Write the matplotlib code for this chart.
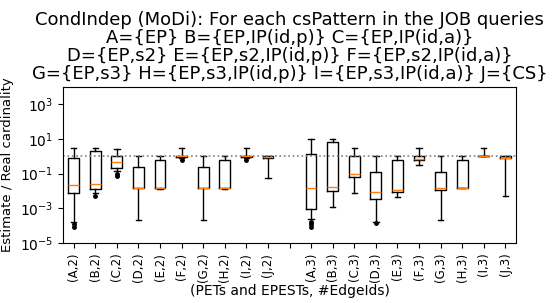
import matplotlib
matplotlib.use('Agg')
import matplotlib.pyplot as plt

# box statistics (whislo, q1, med, q3, whishi, fliers)
labels = ['(A,2)', '(B,2)', '(C,2)', '(D,2)', '(E,2)', '(F,2)', '(G,2)', '(H,2)', '(I,2)', '(J,2)', '',
          '(A,3)', '(B,3)', '(C,3)', '(D,3)', '(E,3)', '(F,3)', '(G,3)', '(H,3)', '(I,3)', '(J,3)']
whislo = [1.6e-4, 7.2e-3, 0.14, 2.1e-4, 0.013, 0.75, 2.1e-4, 0.013, 0.75, 0.054,
          2.4e-4, 1.2e-3, 7.6e-3, 1.6e-4, 4.5e-3, 0.31, 2.1e-4, 0.0145, 1.0, 5.2e-3]
q1 = [7.2e-3, 0.0126, 0.22, 0.015, 0.015, 0.95, 0.015, 0.015, 0.95, 0.82,
      9.5e-4, 9.8e-3, 0.062, 3.4e-3, 9.3e-3, 0.58, 0.0107, 0.0145, 1.0, 0.75]
med = [0.023, 0.027, 0.485, 0.015, 0.015, 1.0, 0.015, 0.015, 1.0, 0.9,
       0.014, 0.018, 0.095, 9.3e-3, 0.0107, 0.72, 0.014, 0.0145, 1.0, 0.78]
q3 = [0.79, 2.06, 0.98, 0.24, 0.6, 1.05, 0.24, 0.6, 1.05, 1.0,
      1.39, 6.7, 1.0, 0.13, 0.63, 1.0, 0.13, 0.63, 1.0, 0.98]
whishi = [3.2, 3.2, 2.8, 1.0, 1.0, 2.9, 1.0, 1.0, 2.9, 1.0,
          10.5, 10.5, 2.9, 1.0, 1.0, 2.9, 1.0, 1.0, 2.9, 1.0]
fliers = [[1.2e-4, 8e-5], [5.3e-3], [0.1, 0.075], [], [], [0.62], [], [], [0.65], [],
          [1.7e-4, 1.26e-4, 8.9e-5], [], [], [1.4e-4], [], [], [], [], [], []]

title = ('CondIndep (MoDi): For each csPattern in the JOB queries\n'
         'A={EP} B={EP,IP(id,p)} C={EP,IP(id,a)}\n'
         'D={EP,s2} E={EP,s2,IP(id,p)} F={EP,s2,IP(id,a)}\n'
         'G={EP,s3} H={EP,s3,IP(id,p)} I={EP,s3,IP(id,a)} J={CS}')

positions = [i + 1 for i, l in enumerate(labels) if l != '']
stats = []
for i in range(len(positions)):
    stats.append(dict(whislo=whislo[i], q1=q1[i], med=med[i], q3=q3[i],
                      whishi=whishi[i], fliers=fliers[i]))

fig = plt.figure(figsize=(5.52, 3.03), dpi=100)
ax = fig.add_axes([0.114, 0.198, 0.821, 0.515])

ax.bxp(stats, positions=positions, widths=0.5,
       flierprops=dict(marker='o', markersize=2.5, markerfacecolor='black', markeredgecolor='black'))
ax.axhline(1, color='grey', linestyle=':', linewidth=1.2)

ax.set_yscale('log')
ax.set_ylim(1e-5, 1e4)
ax.set_yticks([1e-5, 1e-3, 1e-1, 1e1, 1e3])
ax.minorticks_off()
ax.set_xlim(0.5, len(labels) + 0.5)
ax.set_xticks(range(1, len(labels) + 1))
ax.set_xticklabels(labels, rotation=90, fontsize=8.5)

ax.set_title(title, fontsize=13, linespacing=1.0)
ax.set_xlabel('(PETs and EPESTs, #EdgeIds)', labelpad=1)
ax.set_ylabel('Estimate / Real cardinality', fontsize=9.5)

fig.savefig('out.png', dpi=100)
